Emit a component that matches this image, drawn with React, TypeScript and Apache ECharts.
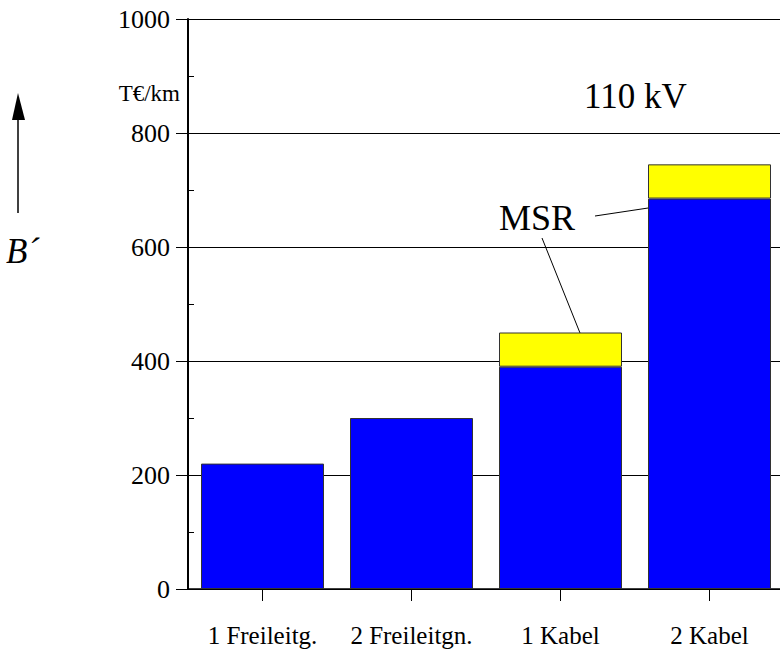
import React, { useEffect, useRef } from "react";
import * as echarts from "echarts";

const categories = ["1 Freileitg.", "2 Freileitgn.", "1 Kabel", "2 Kabel"];
const baseValues = [220, 300, 390, 685];
const msrValues: (number | string)[] = ["-", "-", 60, 60];
const yTicks = { min: 0, max: 1000, interval: 200 };
const unitLabel = "T€/km";
const voltageLabel = "110 kV";
const msrLabel = "MSR";
const axisSymbol = "B´";

const FONT = "'Liberation Serif', 'Times New Roman', serif";

export default function App() {
  const ref = useRef<HTMLDivElement>(null);
  useEffect(() => {
    if (!ref.current) return;
    const chart = echarts.init(ref.current, undefined, { renderer: "svg" });
    const txt = (size: number, extra: any = {}) => ({
      fontFamily: FONT,
      fontSize: size,
      fill: "#000",
      ...extra,
    });
    chart.setOption({
      animation: false,
      backgroundColor: "#fff",
      grid: { left: 188, top: 19, right: 0, height: 570 },
      xAxis: {
        type: "category",
        data: categories,
        axisLine: { show: true, lineStyle: { color: "#000", width: 1.5 } },
        axisTick: { show: true, alignWithLabel: true, interval: 0, length: 12, lineStyle: { color: "#000", width: 1 } },
        axisLabel: { interval: 0, color: "#000", fontFamily: FONT, fontSize: 25, margin: 34 },
      },
      yAxis: [
        {
          type: "value",
          position: "left",
          min: yTicks.min,
          max: yTicks.max,
          interval: yTicks.interval,
          axisLine: { show: true, lineStyle: { color: "#000", width: 2 } },
          axisTick: { show: true, length: 12, lineStyle: { color: "#000", width: 1 } },
          axisLabel: { color: "#000", fontFamily: FONT, fontSize: 26, margin: 18, formatter: (v: number) => String(v) },
          splitLine: { show: true, lineStyle: { color: "#000", width: 1 } },
        },
        {
          type: "value",
          position: "left",
          min: yTicks.min,
          max: yTicks.max,
          interval: yTicks.interval,
          axisLine: { show: false },
          axisTick: { show: false, inside: true },
          axisLabel: { show: false },
          splitLine: { show: false },
          minorTick: { show: true, splitNumber: 2, length: 6, lineStyle: { color: "#000", width: 1 } },
        },
      ],
      series: [
        {
          type: "bar",
          stack: "a",
          data: baseValues,
          barWidth: 123,
          itemStyle: { color: "#0000FF", borderColor: "#333", borderWidth: 1 },
        },
        {
          type: "bar",
          stack: "a",
          data: msrValues,
          barWidth: 123,
          itemStyle: { color: "#FFFF00", borderColor: "#333", borderWidth: 1 },
        },
      ],
      graphic: [
        {
          type: "text",
          x: 180,
          y: 93,
          style: { text: unitLabel, ...txt(23), align: "right", verticalAlign: "middle" },
        },
        {
          type: "text",
          x: 584,
          y: 96,
          style: { text: voltageLabel, ...txt(35), align: "left", verticalAlign: "middle" },
        },
        {
          type: "text",
          x: 499,
          y: 218,
          style: { text: msrLabel, ...txt(36), align: "left", verticalAlign: "middle" },
        },
        { type: "line", shape: { x1: 595, y1: 216, x2: 688, y2: 202 }, style: { stroke: "#000", lineWidth: 1 } },
        { type: "line", shape: { x1: 542, y1: 238, x2: 590, y2: 358 }, style: { stroke: "#000", lineWidth: 1 } },
        { type: "line", shape: { x1: 18, y1: 118, x2: 18, y2: 213 }, style: { stroke: "#000", lineWidth: 1.5 } },
        { type: "polygon", shape: { points: [[18, 93], [12, 120], [25, 120]] }, style: { fill: "#000" } },
        {
          type: "text",
          x: 6,
          y: 251,
          style: { text: axisSymbol, ...txt(35, { fontStyle: "italic" }), align: "left", verticalAlign: "middle" },
        },
      ],
    });
    return () => chart.dispose();
  }, []);
  return (
    <div style={{ position: "absolute", left: 0, top: 0, width: 780, height: 657, overflow: "hidden" }}>
      <div ref={ref} style={{ width: 784, height: 657 }} />
    </div>
  );
}
